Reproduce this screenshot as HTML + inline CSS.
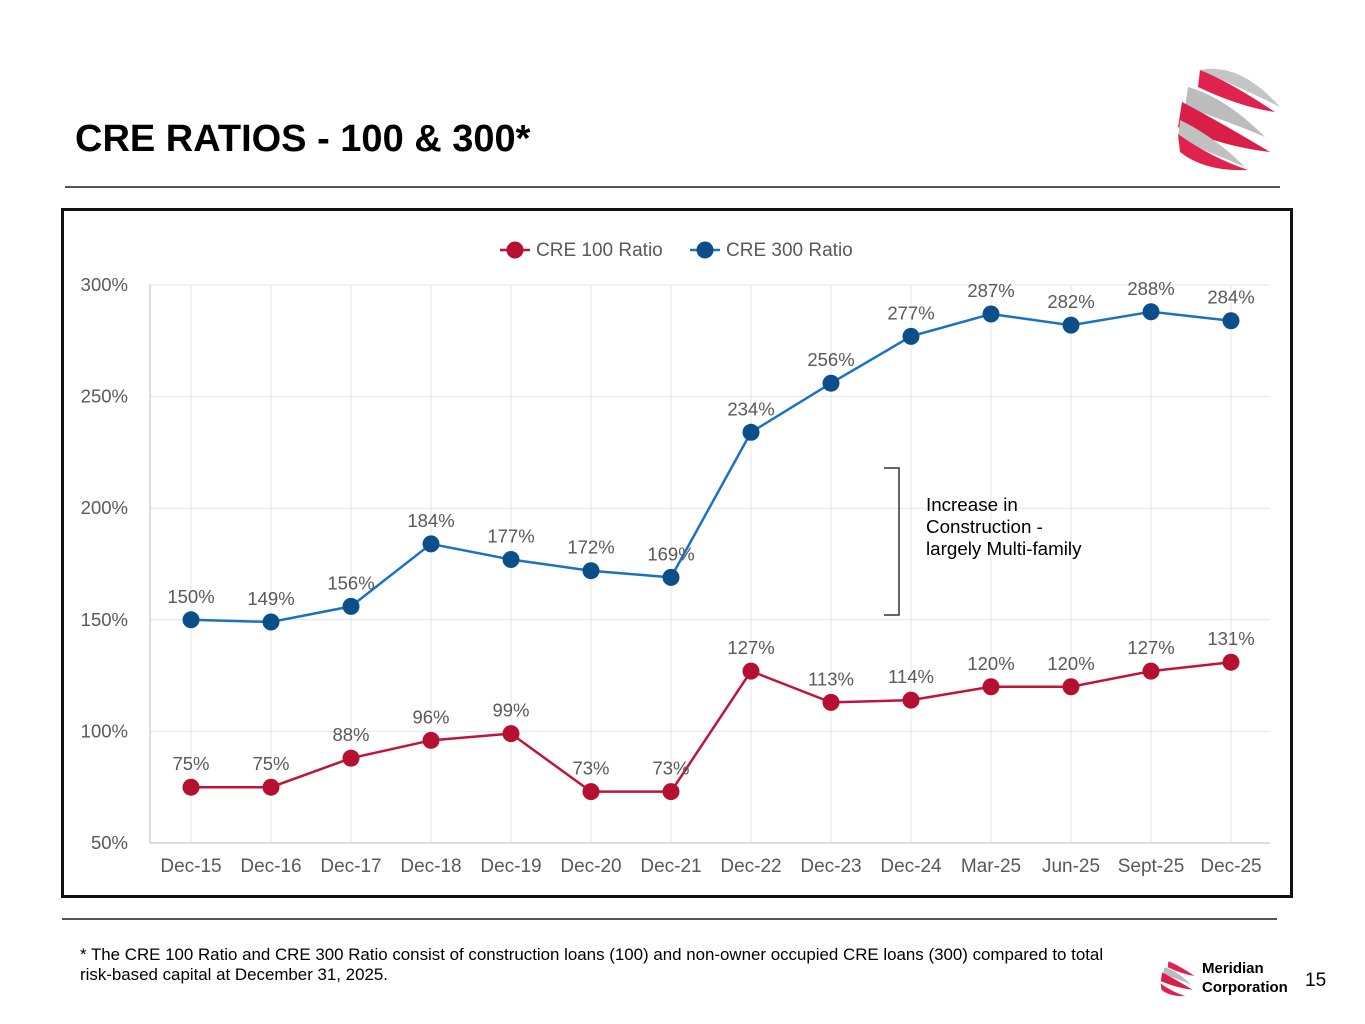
<!DOCTYPE html>
<html><head><meta charset="utf-8"><style>
body{margin:0;width:1365px;height:1024px;background:#fff;font-family:"Liberation Sans",Arial,sans-serif;position:relative;overflow:hidden}
.abs{position:absolute}
</style></head><body>
<div class="abs" style="left:75px;top:118px;font-size:38px;font-weight:bold;color:#000">CRE RATIOS - 100 &amp; 300*</div>
<svg class="abs" style="left:1170px;top:62px" width="115" height="112" viewBox="0 0 115 112">
<path d="M30 8 Q70 0 110 45 Q80 30 45 15 Z" fill="#c5c5c5"/>
<path d="M30 8 Q60 20 105 50 Q70 45 28 25 Z" fill="#e0234e"/>
<path d="M18 25 Q55 35 95 75 Q60 60 15 45 Z" fill="#bcbcbc"/>
<path d="M12 40 Q50 60 100 90 Q55 85 8 65 Z" fill="#d91f48"/>
<path d="M10 58 Q45 75 75 105 Q40 90 8 78 Z" fill="#c0c0c0"/>
<path d="M8 72 Q40 95 78 108 Q35 110 10 90 Z" fill="#e0234e"/>
</svg>
<div class="abs" style="left:65px;top:186px;width:1215px;height:2px;background:#555"></div>
<div class="abs" style="left:61px;top:208px;width:1226px;height:684px;border:3px solid #111"></div>
<svg id="chart" class="abs" style="left:0;top:0" width="1365" height="1024"></svg>
<div class="abs" style="left:62px;top:918px;width:1215px;height:2px;background:#555"></div>
<div class="abs" style="left:80px;top:945px;font-size:16.9px;line-height:20px;color:#000">* The CRE 100 Ratio and CRE 300 Ratio consist of construction loans (100) and non-owner occupied CRE loans (300) compared to total<br>risk-based capital at December 31, 2025.</div>
<svg class="abs" style="left:1158px;top:958px" width="40" height="40" viewBox="0 0 115 112">
<path d="M30 8 Q60 20 105 50 Q70 45 28 25 Z" fill="#e0234e"/>
<path d="M18 25 Q55 35 95 75 Q60 60 15 45 Z" fill="#bcbcbc"/>
<path d="M12 40 Q50 60 100 90 Q55 85 8 65 Z" fill="#d91f48"/>
<path d="M8 72 Q40 95 78 108 Q35 110 10 90 Z" fill="#e0234e"/>
</svg>
<div class="abs" style="left:1202px;top:959px;font-size:15px;font-weight:bold;line-height:19px">Meridian<br>Corporation</div>
<div class="abs" style="left:1305px;top:970px;font-size:19px">15</div>
<script>
const categories=["Dec-15","Dec-16","Dec-17","Dec-18","Dec-19","Dec-20","Dec-21","Dec-22","Dec-23","Dec-24","Mar-25","Jun-25","Sept-25","Dec-25"];
const cre100=[75,75,88,96,99,73,73,127,113,114,120,120,127,131];
const cre300=[150,149,156,184,177,172,169,234,256,277,287,282,288,284];
const yTicks=[50,100,150,200,250,300];
const svg=document.getElementById('chart');
const NS='http://www.w3.org/2000/svg';
const x=i=>191+i*80;
const y=v=>843-(v-50)*558/250;
function mk(t,a,p){const e=document.createElementNS(NS,t);for(const k in a)e.setAttribute(k,a[k]);(p||svg).appendChild(e);return e;}
yTicks.forEach(v=>{
  const g=mk('line',{x1:150,x2:1270,y1:y(v),y2:y(v),stroke:v===50?'#bbb':'#e4e4e4','stroke-width':1});
  
  
  const t=mk('text',{x:128,y:y(v)+6,'text-anchor':'end','font-size':18.5,fill:'#595959'});t.textContent=v+'%';
  
  
});
categories.forEach((c,i)=>{
  const g=mk('line',{x1:x(i),x2:x(i),y1:285,y2:843,stroke:'#e4e4e4','stroke-width':1});
  
  
  const t=mk('text',{x:x(i),y:872,'text-anchor':'middle','font-size':19,fill:'#595959'});t.textContent=c;
  
  
});
mk('line',{x1:150,x2:150,y1:285,y2:843,stroke:'#bbb'});
function series(vals,color,lc,name){
  const p=mk('polyline',{points:vals.map((v,i)=>x(i)+','+y(v)).join(' '),fill:'none',stroke:lc,'stroke-width':2.5});
  
  
  vals.forEach((v,i)=>{
    const c=mk('circle',{cx:x(i),cy:y(v),r:8.5,fill:color});
    
    
    const t=mk('text',{x:x(i),y:y(v)-17,'text-anchor':'middle','font-size':18.5,fill:'#595959'});t.textContent=v+'%';
    
    
  });
}
series(cre300,'#0b4f8a','#1a72c4','cre300');
series(cre100,'#b5102f','#c0143a','cre100');
[[500,'#b5102f','#c0143a','CRE 100 Ratio'],[690,'#0b4f8a','#1a72c4','CRE 300 Ratio']].forEach(([lx,c,lc,txt])=>{
  const l=mk('line',{x1:lx,x2:lx+30,y1:250,y2:250,stroke:lc,'stroke-width':2.5});
  
  
  const cc=mk('circle',{cx:lx+15,cy:250,r:8.5,fill:c});
  
  
  const t=mk('text',{x:lx+36,y:256,'font-size':19,fill:'#595959'});t.textContent=txt;
  
  
});
const br=mk('polyline',{points:'884,468 899,468 899,615 884,615',fill:'none',stroke:'#333','stroke-width':1.5});


['Increase  in','Construction -','largely Multi-family'].forEach((s,i)=>{
  const t=mk('text',{x:926,y:511+i*22,'font-size':18.8,fill:'#000','xml:space':'preserve'});t.textContent=s;
  
  
});
</script>
</body></html>
